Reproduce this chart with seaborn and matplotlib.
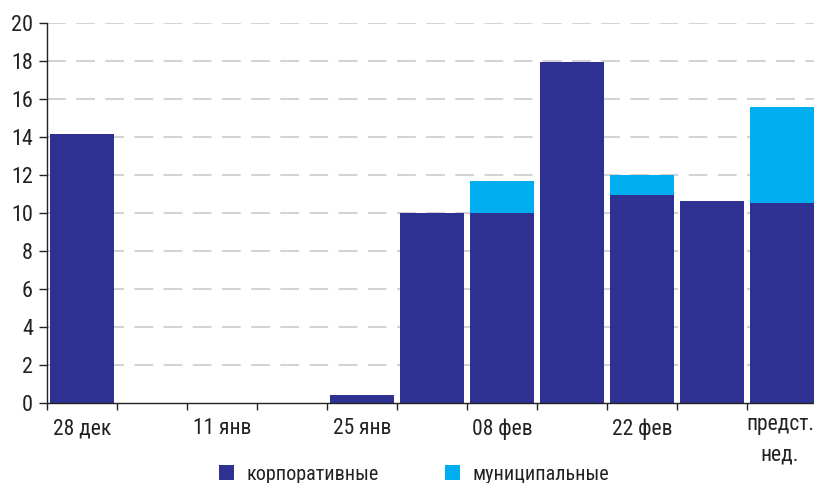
import matplotlib
matplotlib.use("Agg")
import matplotlib.pyplot as plt
from matplotlib.patches import Patch
from matplotlib.ticker import FixedLocator
from matplotlib import font_manager
import seaborn as sns
import pandas as pd

weeks = ["28 дек", "04 янв", "11 янв", "18 янв", "25 янв", "01 фев",
         "08 фев", "15 фев", "22 фев", "01 мар", "предст.\nнед."]
shown_labels = ["28 дек", "11 янв", "25 янв", "08 фев", "22 фев", "предст.\nнед."]
corporate = [14.15, 0, 0, 0, 0.42, 10.0, 10.0, 17.95, 10.95, 10.63, 10.53]
municipal = [0, 0, 0, 0, 0, 0, 1.68, 0, 1.05, 0, 5.05]
series_names = ["корпоративные", "муниципальные"]

NAVY = "#2E3192"
CYAN = "#00AEEF"

sns.set_theme(style="white")
names = {f.name for f in font_manager.fontManager.ttflist}
fam = [n for n in ["Liberation Sans Narrow", "Roboto Condensed", "DejaVu Sans"] if n in names]
plt.rcParams["font.family"] = fam + ["DejaVu Sans"]
plt.rcParams["font.stretch"] = "condensed"

df = pd.DataFrame({"week": weeks, "corp": corporate, "muni": municipal})
df["total"] = df["corp"] + df["muni"]

fig = plt.figure(figsize=(8.14, 4.83), dpi=100)
ax = fig.add_axes([47 / 814, 80 / 483, 770 / 814, 380 / 483])

sns.barplot(data=df, x="week", y="total", order=weeks, color=CYAN,
            saturation=1, width=0.92, ax=ax, zorder=3, edgecolor="none")
sns.barplot(data=df, x="week", y="corp", order=weeks, color=NAVY,
            saturation=1, width=0.92, ax=ax, zorder=4, edgecolor="none")

ax.set_xlim(-0.5, 10.5)
ax.set_ylim(0, 20)
ax.set_yticks(range(0, 21, 2))
ax.set_yticklabels([str(v) for v in range(0, 21, 2)], fontsize=16, color="#222222")
ax.set_xlabel("")
ax.set_ylabel("")

label_pos = [weeks.index(l) for l in shown_labels]
ax.set_xticks(label_pos)
ax.set_xticklabels(shown_labels[:-1] + [""], fontsize=15.5, color="#222222")
ax.annotate(shown_labels[-1], xy=(label_pos[-1], 0), xycoords=("data", "axes fraction"),
            xytext=(-1.5, -8.2), textcoords="offset points", ha="center", va="top",
            fontsize=15.5, color="#222222", linespacing=1.6)
ax.xaxis.set_minor_locator(FixedLocator([i - 0.5 for i in range(len(weeks) + 1)]))
ax.tick_params(axis="x", which="major", length=0, pad=11)
ax.tick_params(axis="x", which="minor", length=5, width=1, color="#222222", direction="out", bottom=True)
ax.tick_params(axis="y", which="major", length=6, width=1, color="#222222", direction="out", left=True, pad=4)

for y in range(2, 21, 2):
    ax.axhline(y, color="#d4d4d4", lw=1.5, dashes=(9, 5), zorder=1)

for s in ["top", "right"]:
    ax.spines[s].set_visible(False)
for s in ["left", "bottom"]:
    ax.spines[s].set_color("#222222")
    ax.spines[s].set_linewidth(1.0)
ax.spines["left"].set_zorder(5)
ax.spines["bottom"].set_zorder(5)

handles = [Patch(facecolor=NAVY, edgecolor="none"), Patch(facecolor=CYAN, edgecolor="none")]
fig.legend(handles, series_names, loc="center", bbox_to_anchor=(414 / 814, 9 / 483),
           ncol=2, frameon=False, fontsize=14.5, handlelength=0.75, handleheight=0.75,
           handletextpad=0.6, columnspacing=3.3, labelcolor="#222222")

fig.savefig("out.png", dpi=100)
